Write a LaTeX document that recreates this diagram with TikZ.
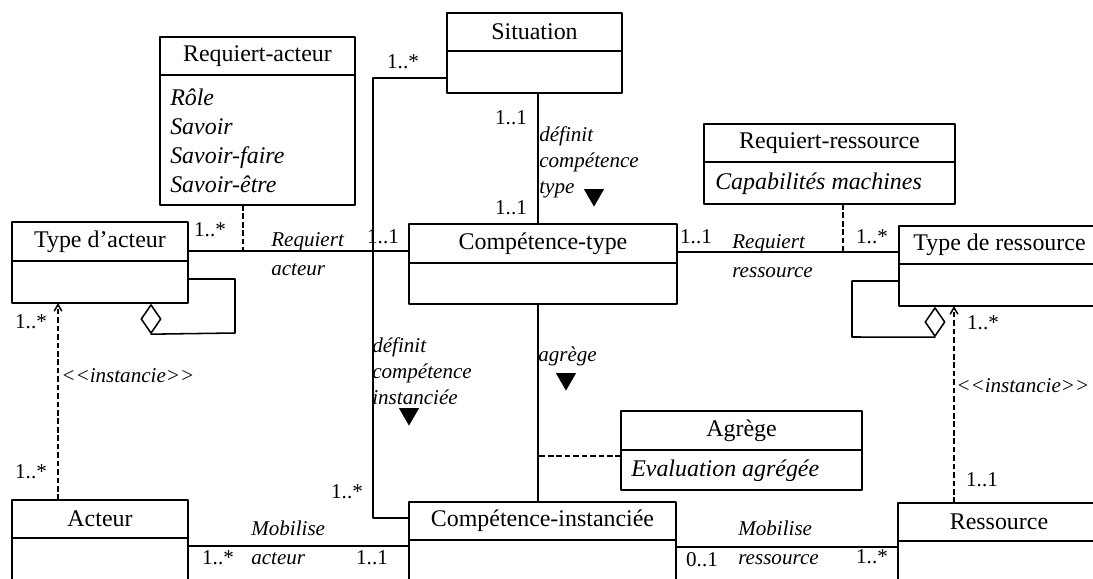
\documentclass[tikz,border=0pt]{standalone}
\usepackage{fontspec}
\setmainfont{Liberation Serif}
\usetikzlibrary{arrows}
\usetikzlibrary{fit}
\usetikzlibrary{shapes.geometric}

\tikzset{
  classbox/.style={draw,line width=1.1pt,inner sep=0pt,outer sep=0pt},
  classname/.style={font=\fontsize{17}{20}\selectfont,inner sep=0pt},
  attr/.style={font=\fontsize{17}{20.6}\selectfont\itshape,align=left,anchor=west,inner sep=0pt},
  rolelabel/.style={font=\fontsize{15}{18.5}\selectfont\itshape,align=left,anchor=west,inner sep=0pt},
  rolepair/.style={rolelabel,font=\fontsize{15}{20.5}\selectfont\itshape},
  mult/.style={font=\fontsize{15}{18}\selectfont,inner sep=0pt},
  readdir/.style={regular polygon,regular polygon sides=3,shape border rotate=180,fill=black,minimum size=0.58cm,inner sep=0pt},
  aggr/.style={diamond,draw,fill=white,line width=1.1pt,minimum width=0.5cm,minimum height=0.72cm,inner sep=0pt},
  assocline/.style={line width=1.1pt},
  dashline/.style={line width=1.1pt,line cap=butt,dash pattern=on 4pt off 2pt},
}

\begin{document}
\begin{tikzpicture}[line cap=round,line join=round,>=angle 60,x=0.025cm,y=-0.025cm]
        \clip (0,0) rectangle (1093,579);
        \fill[white] (0,0) rectangle (1093,579);
        % classes
        \node[classbox,fit={(160,37) (355,205)}] (racteur) {};
        \draw[assocline] (racteur.west |- 0,75) -- (racteur.east |- 0,75);
        \node[classname] (racteur-n) at (257.5,56) {Requiert-acteur};
        \node[attr] (racteur-a) at (170,140.5) {Rôle\\Savoir\\Savoir-faire\\Savoir-être};
        \node[classbox,fit={(447,13) (622,93)}] (situation) {};
        \draw[assocline] (situation.west |- 0,51) -- (situation.east |- 0,51);
        \node[classname] (situation-n) at (534.5,32) {Situation};
        \node[classbox,fit={(409,224) (677,304)}] (ctype) {};
        \draw[assocline] (ctype.west |- 0,263) -- (ctype.east |- 0,263);
        \node[classname] (ctype-n) at (543,243.5) {Compétence-type};
        \node[classbox,fit={(12,222) (188,303)}] (tacteur) {};
        \draw[assocline] (tacteur.west |- 0,261) -- (tacteur.east |- 0,261);
        \node[classname] (tacteur-n) at (100,241.5) {Type d'acteur};
        \node[classbox,fit={(704,124) (955,204)}] (rressource) {};
        \draw[assocline] (rressource.west |- 0,162) -- (rressource.east |- 0,162);
        \node[classname] (rressource-n) at (829.5,143) {Requiert-ressource};
        \node[attr] (rressource-a) at (715,183.5) {Capabilités machines};
        \node[classbox,fit={(899,226) (1100,306)}] (tressource) {};
        \draw[assocline] (tressource.west |- 0,264) -- (tressource.east |- 0,264);
        \node[classname] (tressource-n) at (999.5,245) {Type de ressource};
        \node[classbox,fit={(12,500) (188,600)}] (acteur) {};
        \draw[assocline] (acteur.west |- 0,538) -- (acteur.east |- 0,538);
        \node[classname] (acteur-n) at (100,519) {Acteur};
        \node[classbox,fit={(409,502) (676,600)}] (cinst) {};
        \draw[assocline] (cinst.west |- 0,540) -- (cinst.east |- 0,540);
        \node[classname] (cinst-n) at (542.5,521) {Compétence-instanciée};
        \node[classbox,fit={(621,411) (862,490)}] (agrege) {};
        \draw[assocline] (agrege.west |- 0,450) -- (agrege.east |- 0,450);
        \node[classname] (agrege-n) at (741.5,430.5) {Agrège};
        \node[attr] (agrege-a) at (631,470.5) {Evaluation agrégée};
        \node[classbox,fit={(898,503) (1100,600)}] (ressource) {};
        \draw[assocline] (ressource.west |- 0,541) -- (ressource.east |- 0,541);
        \node[classname] (ressource-n) at (999,522) {Ressource};
        % associations
        \draw[assocline] (tacteur.east |- 0,251) -- (ctype.west |- 0,251);
        \coordinate (ra-foot) at (243,251);
        \draw[dashline] (racteur.south -| ra-foot) -- (ra-foot);
        \draw[assocline] (ctype.east |- 0,252) -- (tressource.west |- 0,252);
        \coordinate (rr-foot) at (843,252);
        \draw[dashline] (rressource.south -| rr-foot) -- (rr-foot);
        \draw[assocline] (situation.south -| 538,0) -- (ctype.north -| 538,0);
        \draw[assocline] (situation.west |- 0,78) -| (373,518) -- (cinst.west |- 0,518);
        \draw[assocline] (ctype.south -| 538,0) -- (cinst.north -| 538,0);
        \coordinate (ag-foot) at (538,456);
        \draw[dashline] (agrege.west |- ag-foot) -- (ag-foot);
        \draw[assocline] (acteur.east |- 0,546) -- (cinst.west |- 0,546);
        \draw[assocline] (cinst.east |- 0,547) -- (ressource.west |- 0,547);
        % aggregations
        \node[aggr] (tacteur-agg) at (151,319) {};
        \draw[assocline] (tacteur.east |- 0,279) -| (235,333) -- (tacteur-agg.south);
        \node[aggr] (tressource-agg) at (935,322) {};
        \draw[assocline] (tressource.west |- 0,281) -| (852,337) -- (tressource-agg.south);
        % instancie
        \draw[dashline,->] (acteur.north -| 58,0) -- (tacteur.south -| 58,0);
        \draw[dashline,->] (ressource.north -| 954,0) -- (tressource.south -| 954,0);
        % labels
        \node[rolepair] (req-act) at (271,254) {Requiert\\acteur};
        \node[rolepair] (req-res) at (732,256.5) {Requiert\\ressource};
        \node[rolelabel] (def-type) at (539,162.5) {définit\\compétence\\type};
        \node[rolelabel] (def-inst) at (372,371.5) {définit\\compétence\\instanciée};
        \node[rolelabel] (agr-lbl) at (538,356) {agrège};
        \node[rolepair] (mob-act) at (251,542.5) {Mobilise\\acteur};
        \node[rolepair] (mob-res) at (738,542.5) {Mobilise\\ressource};
        \node[rolelabel] (inst-act) at (61,376) {<\kern0pt<instancie>\kern0pt>};
        \node[rolelabel] (inst-res) at (956,386) {<\kern0pt<instancie>\kern0pt>};
        \node[readdir] (dir-type) at (594,195) {};
        \node[readdir] (dir-agr) at (566,379) {};
        \node[readdir] (dir-inst) at (409,414) {};
        % multiplicities
        \node[mult] (m1) at (210,230) {1..*};
        \node[mult] (m2) at (383,237) {1..1};
        \node[mult] (m3) at (403,62) {1..*};
        \node[mult] (m4) at (511,118) {1..1};
        \node[mult] (m5) at (511,208) {1..1};
        \node[mult] (m6) at (696,237) {1..1};
        \node[mult] (m7) at (872,237) {1..*};
        \node[mult] (m8) at (983,323) {1..*};
        \node[mult] (m9) at (982,480) {1..1};
        \node[mult] (m10) at (31,322) {1..*};
        \node[mult] (m11) at (31,472) {1..*};
        \node[mult] (m12) at (347,492) {1..*};
        \node[mult] (m13) at (218,558) {1..*};
        \node[mult] (m14) at (372,558) {1..1};
        \node[mult] (m15) at (702,560) {0..1};
        \node[mult] (m16) at (872,557) {1..*};
      \end{tikzpicture}
\end{document}
